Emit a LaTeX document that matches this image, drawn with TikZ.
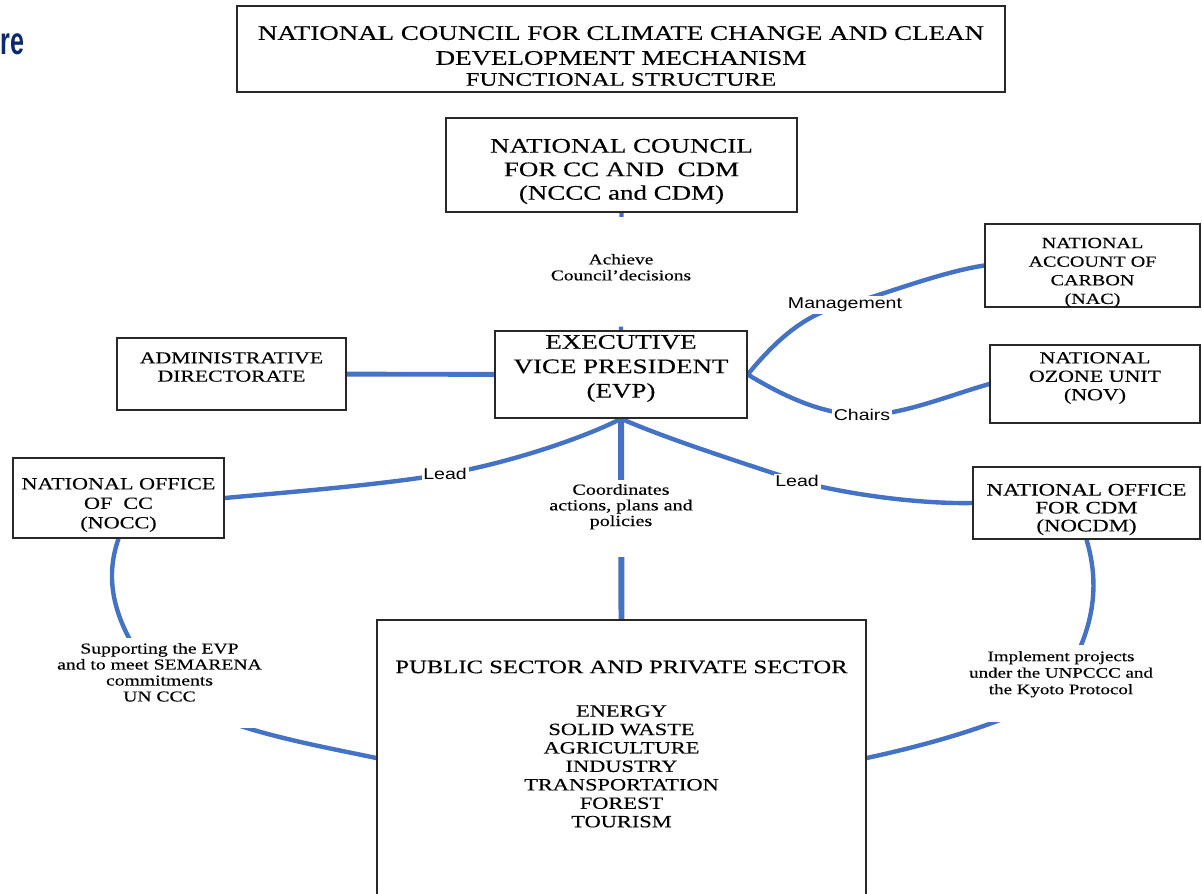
\documentclass[tikz,border=0pt]{standalone}
\usepackage{fontspec}
\setmainfont{Liberation Serif}[FakeStretch=1.3, FakeBold=0.3]
\newfontfamily\labelfont{Liberation Sans}[FakeStretch=1.25]
\newfontfamily\headfont{Liberation Sans}[FakeStretch=0.65]
\usetikzlibrary{backgrounds}

\definecolor{linkblue}{HTML}{4472C4}
\definecolor{headblue}{RGB}{12,40,110}
\definecolor{boxline}{RGB}{40,40,40}

\newcommand{\smalltxt}{\fontsize{8.6}{9.1}\selectfont}
% text kept near the top of a taller white patch
\newcommand{\toptext}[4][0pt]{\parbox[c][#2][t]{#3}{\centering\vspace*{#1}#4}}

\tikzset{
  box/.style={draw=boxline, line width=0.8pt, inner sep=0pt},
  inside/.style={align=center, inner sep=0pt},
  link/.style={draw=linkblue, line width=2.5pt},
  tag/.style={font=\labelfont\fontsize{8.9}{9}\selectfont, fill=white, inner sep=1pt},
  gap/.style={font=\smalltxt, fill=white, inner sep=0pt},
}

\begin{document}
\begin{tikzpicture}[x=0.02cm, y=-0.02cm]
\useasboundingbox (0,0) rectangle (1202,893);

\node[font=\headfont\bfseries\fontsize{22}{22}\selectfont, text=headblue, anchor=base west, inner sep=0pt] (head) at (0,54) {re};

% boxes
\node[box, minimum width=15.36cm, minimum height=1.72cm,
  label={[inside, font=\fontsize{11.8}{14.2}\selectfont, yshift=-0.14cm]center:NATIONAL COUNCIL FOR CLIMATE CHANGE AND CLEAN\\DEVELOPMENT MECHANISM\\[-2.3pt]{\fontsize{10.9}{12}\selectfont FUNCTIONAL STRUCTURE}}] (title) at (621,49) {};
\node[box, minimum width=7.02cm, minimum height=1.88cm,
  label={[inside, font=\fontsize{11.8}{13.4}\selectfont, yshift=-0.13cm]center:NATIONAL COUNCIL\\FOR CC AND\ \ CDM\\(NCCC and CDM)}] (nccc) at (621.5,165) {};
\node[box, minimum width=5.04cm, minimum height=1.74cm,
  label={[inside, font=\fontsize{11.8}{13.9}\selectfont, yshift=0.12cm]center:EXECUTIVE\\VICE PRESIDENT\\(EVP)}] (evp) at (621,374.5) {};
\node[box, minimum width=4.58cm, minimum height=1.44cm,
  label={[inside, font=\fontsize{9.5}{10.4}\selectfont, yshift=0.14cm]center:ADMINISTRATIVE\\DIRECTORATE}] (admin) at (231.5,374) {};
\node[box, minimum width=4.3cm, minimum height=1.66cm,
  label={[inside, font=\fontsize{8.8}{10.6}\selectfont, yshift=-0.14cm]center:NATIONAL\\ACCOUNT OF\\CARBON\\(NAC)}] (nac) at (1092.5,265.5) {};
\node[box, minimum width=4.2cm, minimum height=1.56cm,
  label={[inside, font=\fontsize{9.6}{10.5}\selectfont, yshift=0.12cm]center:NATIONAL\\OZONE UNIT\\(NOV)}] (nov) at (1095,384) {};
\node[box, minimum width=4.22cm, minimum height=1.6cm,
  label={[inside, font=\fontsize{9.7}{11.1}\selectfont, yshift=-0.14cm]center:NATIONAL OFFICE\\OF\ \ CC\\(NOCC)}] (nocc) at (118.5,498) {};
\node[box, minimum width=4.54cm, minimum height=1.44cm,
  label={[inside, font=\fontsize{10}{10.2}\selectfont, yshift=-0.13cm]center:NATIONAL OFFICE\\FOR CDM\\(NOCDM)}] (nocdm) at (1086.5,503) {};
\node[box, minimum width=9.78cm, minimum height=5.52cm,
  label={[inside, font=\fontsize{9.8}{10.5}\selectfont, yshift=0.28cm]center:{\fontsize{10.8}{12}\selectfont PUBLIC SECTOR AND PRIVATE SECTOR}\\[0.5cm]ENERGY\\SOLID WASTE\\AGRICULTURE\\INDUSTRY\\TRANSPORTATION\\FOREST\\TOURISM}] (pub) at (621.5,758) {};

% labels on the links
\node[gap, font=\fontsize{8.5}{9.1}\selectfont] (achieve) at (621,271.5) {\toptext[0.74cm]{2.18cm}{3cm}{Achieve\\Council’decisions}};
\node[gap, font=\fontsize{8.8}{8.9}\selectfont] (coord) at (621,518.5) {\toptext[0.08cm]{1.54cm}{3.2cm}{Coordinates\\actions, plans and\\policies}};
\node[gap] (supp) at (159.5,683) {\toptext[0.1cm]{1.8cm}{4.22cm}{Supporting the EVP\\and to meet SEMARENA\\commitments\\UN CCC}};
\node[gap, font=\fontsize{8.3}{9.4}\selectfont] (impl) at (1061,683.5) {\toptext[0.12cm]{1.54cm}{4.04cm}{Implement projects\\under the UNPCCC and\\the Kyoto Protocol}};
\node[tag] (mgmt) at (845,305) {Management};
\node[tag] (chairs) at (862,415) {Chairs};
\node[tag] (leadl) at (445,474) {Lead};
\node[tag] (leadr) at (797,481) {Lead};

% links
\begin{scope}[on background layer]
\draw[link, dash pattern=on 0.1cm off 2.18cm] (nccc.south) -- (evp.north);
\draw[link, line width=2.8pt] (admin) -- (evp);
\draw[link, line width=3.4pt] (evp.south) -- (pub.north);
\draw[link] (evp.east) .. controls (780,335) and (810,312) .. (mgmt.center) .. controls (880,296) and (940,272) .. (nac.west);
\draw[link] (evp.east) .. controls (790,400) and (825,414) .. (chairs.center) .. controls (900,416) and (950,395) .. (nov.west);
\draw[link] (evp.south) .. controls (580,440) and (500,465) .. (leadl.center) .. controls (380,485) and (290,492) .. (nocc.east);
\draw[link] (evp.south) .. controls (670,440) and (740,462) .. (leadr.center) .. controls (850,495) and (920,504) .. (nocdm.west);
\draw[link] (nocc.south) .. controls (104,580) and (112,625) .. (supp.center) .. controls (200,725) and (300,742) .. (pub.west);
\draw[link] (nocdm.south) .. controls (1100,585) and (1095,630) .. (impl.center) .. controls (1040,712) and (950,740) .. (pub.east);
\end{scope}
\end{tikzpicture}
\end{document}
